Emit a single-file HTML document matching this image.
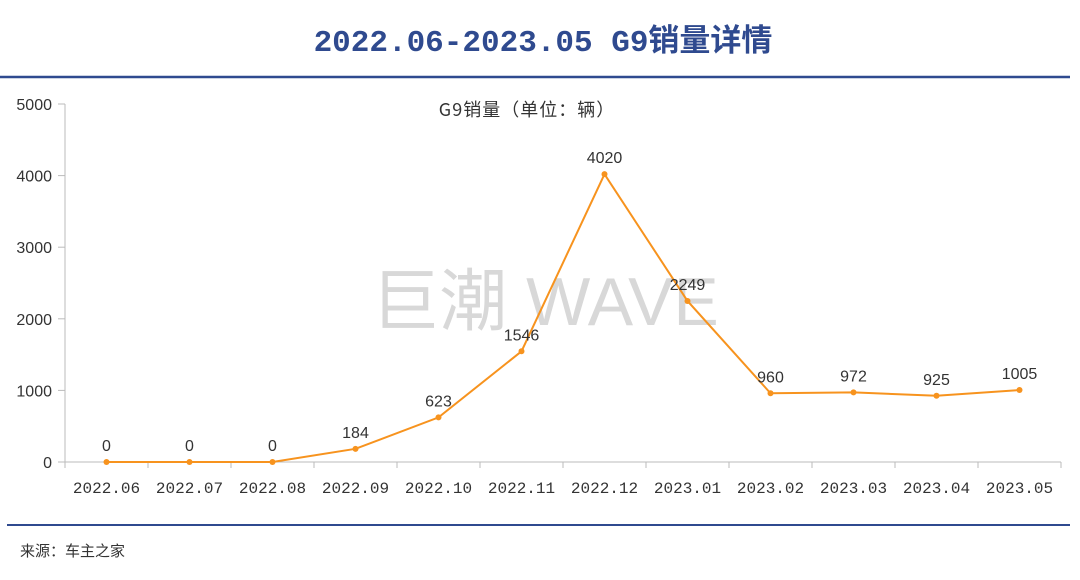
<!DOCTYPE html>
<html><head><meta charset="utf-8"><style>
body{margin:0;background:#fff;width:1080px;height:575px;overflow:hidden;font-family:"Liberation Sans","Noto Sans CJK SC",sans-serif}
</style></head><body>
<svg width="1080" height="575" font-family="Liberation Sans, Noto Sans CJK SC, sans-serif">
<text x="543" y="51" text-anchor="middle" font-size="31" font-weight="bold" fill="#2f4a8f" font-family="Liberation Mono, Noto Sans CJK SC, monospace">2022.06-2023.05 G9销量详情</text>
<line x1="0" y1="77" x2="1070" y2="77" stroke="#2f4a8f" stroke-width="2.5"/>
<text x="545" y="325" text-anchor="middle" font-size="68" fill="#d8d8d8">巨潮 WAVE</text>
<text x="527" y="116" text-anchor="middle" font-size="18" fill="#333" font-family="Noto Sans CJK SC, sans-serif" letter-spacing="1">G9销量（单位：辆）</text>
<g id="axes"></g>
<g id="marks"></g>
<line x1="7" y1="525" x2="1070" y2="525" stroke="#2f4a8f" stroke-width="2"/>
<text x="20" y="556" font-size="15" fill="#333" font-family="Noto Sans CJK SC, sans-serif">来源：车主之家</text>
</svg>
<script>
const categories=["2022.06","2022.07","2022.08","2022.09","2022.10","2022.11","2022.12","2023.01","2023.02","2023.03","2023.04","2023.05"];
const sales=[0,0,0,184,623,1546,4020,2249,960,972,925,1005];
const yTicks=[0,1000,2000,3000,4000,5000];
const NS="http://www.w3.org/2000/svg";
const x0=65,x1=1061,yTop=104,yBot=462,yMax=5000;
const band=(x1-x0)/categories.length;
const xs=i=>x0+band*(i+0.5);
const ys=v=>yBot-(v/yMax)*(yBot-yTop);
function mk(tag,attrs,parent,text){const e=document.createElementNS(NS,tag);for(const k in attrs)e.setAttribute(k,attrs[k]);if(text!==undefined)e.textContent=text;parent.appendChild(e);return e;}
const ax=document.getElementById('axes'),mg=document.getElementById('marks');
let e=mk('line',{x1:x0,y1:yTop,x2:x0,y2:yBot,stroke:'#bbb'},ax);


e=mk('line',{x1:x0,y1:yBot,x2:x1,y2:yBot,stroke:'#bbb'},ax);


yTicks.forEach(t=>{
  mk('line',{x1:58,y1:ys(t),x2:x0,y2:ys(t),stroke:'#bbb'},ax);
  e=mk('text',{x:52,y:ys(t)+6,'text-anchor':'end','font-size':16,fill:'#333'},ax,String(t));
  
  
});
categories.forEach((c,i)=>{
  mk('line',{x1:x0+band*i,y1:yBot,x2:x0+band*i,y2:yBot+6,stroke:'#bbb'},ax);
  e=mk('text',{x:xs(i),y:yBot+31,'text-anchor':'middle','font-size':16,fill:'#333','font-family':'Liberation Mono, monospace'},ax,c);
  
  
});
mk('line',{x1:x1,y1:yBot,x2:x1,y2:yBot+6,stroke:'#bbb'},ax);
e=mk('polyline',{points:sales.map((v,i)=>xs(i)+','+ys(v)).join(' '),fill:'none',stroke:'#f7931e','stroke-width':2},mg);


sales.forEach((v,i)=>{
  e=mk('circle',{cx:xs(i),cy:ys(v),r:3,fill:'#f7931e'},mg);
  
  
  e=mk('text',{x:xs(i),y:ys(v)-11,'text-anchor':'middle','font-size':16,fill:'#333'},mg,String(v));
  
  
});
</script>
</body></html>
